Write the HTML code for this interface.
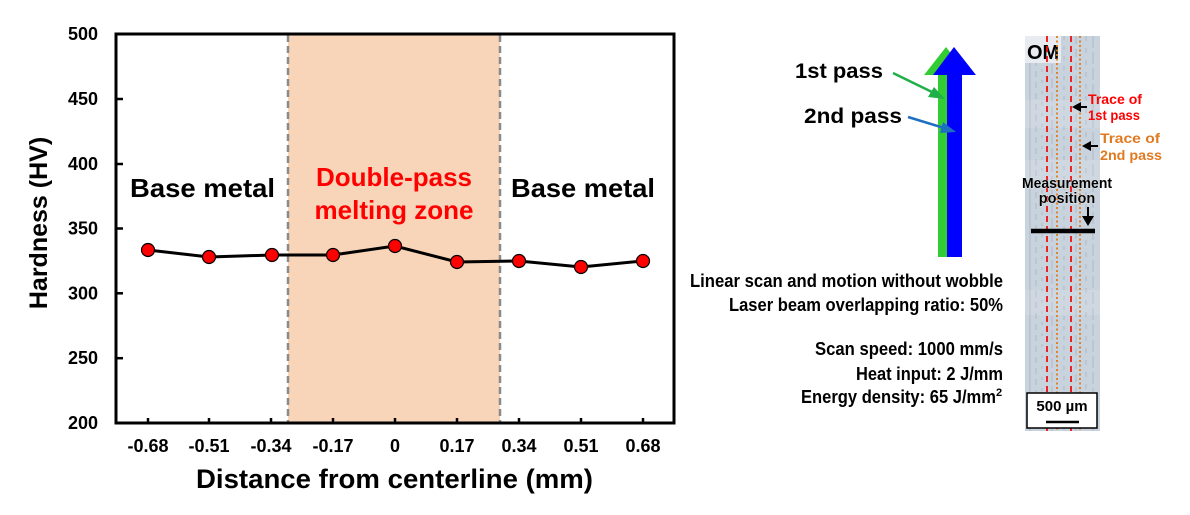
<!DOCTYPE html>
<html><head><meta charset="utf-8"><style>
html,body{margin:0;padding:0;background:#fff;}
svg{display:block;}
text{font-family:"Liberation Sans",Arial,sans-serif;font-weight:bold;}
</style></head><body>
<svg width="1190" height="515" viewBox="0 0 1190 515" xmlns="http://www.w3.org/2000/svg">
<rect width="1190" height="515" fill="#fff"/>
<!-- shaded zone -->
<rect x="288" y="34" width="212" height="389" fill="#f8d4b8"/>
<line x1="288" y1="35" x2="288" y2="422" stroke="#8a8a8a" stroke-width="2.5" stroke-dasharray="7,4"/>
<line x1="500" y1="35" x2="500" y2="422" stroke="#8a8a8a" stroke-width="2.5" stroke-dasharray="7,4"/>
<!-- frame -->
<rect x="116" y="34" width="558" height="389" fill="none" stroke="#000" stroke-width="3"/>
<!-- ticks -->
<g stroke="#000" stroke-width="2.5">
<line x1="116" y1="99" x2="123" y2="99"/>
<line x1="116" y1="164" x2="123" y2="164"/>
<line x1="116" y1="228.5" x2="123" y2="228.5"/>
<line x1="116" y1="293.3" x2="123" y2="293.3"/>
<line x1="116" y1="358.2" x2="123" y2="358.2"/>
<line x1="148" y1="423" x2="148" y2="418"/>
<line x1="209" y1="423" x2="209" y2="418"/>
<line x1="271" y1="423" x2="271" y2="418"/>
<line x1="333" y1="423" x2="333" y2="418"/>
<line x1="395" y1="423" x2="395" y2="418"/>
<line x1="457" y1="423" x2="457" y2="418"/>
<line x1="519" y1="423" x2="519" y2="418"/>
<line x1="581" y1="423" x2="581" y2="418"/>
<line x1="643" y1="423" x2="643" y2="418"/>
</g>
<!-- y labels -->
<g font-size="18" text-anchor="end" fill="#000">
<text x="98" y="40">500</text>
<text x="98" y="105">450</text>
<text x="98" y="170">400</text>
<text x="98" y="234.5">350</text>
<text x="98" y="299.5">300</text>
<text x="98" y="364">250</text>
<text x="98" y="429">200</text>
</g>
<!-- x labels -->
<g font-size="18" text-anchor="middle" fill="#000">
<text x="148" y="452">-0.68</text>
<text x="209" y="452">-0.51</text>
<text x="271" y="452">-0.34</text>
<text x="333" y="452">-0.17</text>
<text x="395" y="452">0</text>
<text x="457" y="452">0.17</text>
<text x="519" y="452">0.34</text>
<text x="581" y="452">0.51</text>
<text x="643" y="452">0.68</text>
</g>
<text x="196" y="488" font-size="27" textLength="397" lengthAdjust="spacingAndGlyphs">Distance from centerline (mm)</text>
<text transform="translate(47,223) rotate(-90)" x="0" y="0" font-size="25" text-anchor="middle">Hardness (HV)</text>
<!-- region labels -->
<text x="130" y="197" font-size="26" textLength="145" lengthAdjust="spacingAndGlyphs">Base metal</text>
<text x="511" y="197" font-size="26" textLength="144" lengthAdjust="spacingAndGlyphs">Base metal</text>
<text x="394" y="186" font-size="26" fill="#ff0000" text-anchor="middle">Double-pass</text>
<text x="394" y="219" font-size="26" fill="#ff0000" text-anchor="middle">melting zone</text>
<!-- data -->
<polyline points="148,250 209,257 272,255 333,255 395,246 457,262 519,261 581,267 643,261" fill="none" stroke="#000" stroke-width="3"/>
<g fill="#ff0000" stroke="#000" stroke-width="1.2">
<circle cx="148" cy="250" r="6.5"/>
<circle cx="209" cy="257" r="6.5"/>
<circle cx="272" cy="255" r="6.5"/>
<circle cx="333" cy="255" r="6.5"/>
<circle cx="395" cy="246" r="6.5"/>
<circle cx="457" cy="262" r="6.5"/>
<circle cx="519" cy="261" r="6.5"/>
<circle cx="581" cy="267" r="6.5"/>
<circle cx="643" cy="261" r="6.5"/>
</g>
<!-- big arrows -->
<polygon points="946,47 968,75 947,75 947,257 938,257 938,75 924,75" fill="#33cc33"/>
<polygon points="954,47 976,75 962,75 962,257 947,257 947,75 933,75" fill="#0000ff"/>
<text x="795" y="78" font-size="21" textLength="88" lengthAdjust="spacingAndGlyphs">1st pass</text>
<text x="804" y="123" font-size="21" textLength="98" lengthAdjust="spacingAndGlyphs">2nd pass</text>
<line x1="893" y1="73" x2="934" y2="93" stroke="#1fb04a" stroke-width="2.5"/>
<polygon points="945,99 928,97 934,87" fill="#1fb04a"/>
<line x1="908" y1="117" x2="944" y2="128" stroke="#1f6fc0" stroke-width="2.5"/>
<polygon points="956,132 940,133 943,122" fill="#1f6fc0"/>
<!-- parameters -->
<g font-size="18.5" text-anchor="start" fill="#000">
<text x="690" y="287" textLength="313" lengthAdjust="spacingAndGlyphs">Linear scan and motion without wobble</text>
<text x="729" y="311" textLength="274" lengthAdjust="spacingAndGlyphs">Laser beam overlapping ratio: 50%</text>
<text x="815" y="355" textLength="188" lengthAdjust="spacingAndGlyphs">Scan speed: 1000 mm/s</text>
<text x="856" y="380" textLength="147" lengthAdjust="spacingAndGlyphs">Heat input: 2 J/mm</text>
<text x="801" y="403" textLength="195" lengthAdjust="spacingAndGlyphs">Energy density: 65 J/mm</text>
<text x="996" y="396" font-size="11">2</text>
</g>
<!-- micrograph -->
<rect x="1025" y="36" width="75" height="395" fill="#c9d3dd"/>
<g stroke="#aab4be" stroke-width="1" opacity="0.8">
<line x1="1030" y1="36" x2="1030" y2="431"/>
<line x1="1036" y1="60" x2="1036" y2="431" stroke-dasharray="6,5"/>
<line x1="1042" y1="36" x2="1042" y2="431" stroke-dasharray="3,8"/>
<line x1="1052" y1="36" x2="1052" y2="431" stroke-dasharray="10,4"/>
<line x1="1064" y1="36" x2="1064" y2="431" stroke-dasharray="4,6"/>
<line x1="1076" y1="36" x2="1076" y2="431" stroke-dasharray="8,5"/>
<line x1="1086" y1="36" x2="1086" y2="431" stroke-dasharray="5,7"/>
<line x1="1093" y1="36" x2="1093" y2="431" stroke-dasharray="12,4"/>
</g>
<g fill="#ffffff" opacity="0.12">
<rect x="1025" y="100" width="75" height="28"/>
<rect x="1025" y="160" width="75" height="20"/>
<rect x="1025" y="290" width="75" height="25"/>
</g>
<rect x="1025" y="36" width="36" height="27" fill="#e8ecf0"/>
<text x="1027" y="59" font-size="20">OM</text>
<g stroke="#ee1111" stroke-width="1.8" stroke-dasharray="6,4">
<line x1="1047" y1="36" x2="1047" y2="431"/>
<line x1="1071" y1="36" x2="1071" y2="431"/>
</g>
<g stroke="#e07a20" stroke-width="1.8" stroke-dasharray="2,2.5">
<line x1="1057" y1="36" x2="1057" y2="431"/>
<line x1="1080" y1="36" x2="1080" y2="431"/>
</g>
<!-- trace labels -->
<text x="1088" y="104" font-size="14" fill="#ff0000" textLength="54" lengthAdjust="spacingAndGlyphs">Trace of</text>
<text x="1088" y="120" font-size="14" fill="#ff0000" textLength="52" lengthAdjust="spacingAndGlyphs">1st pass</text>
<line x1="1087" y1="107" x2="1078" y2="107" stroke="#000" stroke-width="2"/>
<polygon points="1072,107 1081,102 1081,112" fill="#000"/>
<text x="1100" y="143" font-size="14" fill="#e07a20" textLength="60" lengthAdjust="spacingAndGlyphs">Trace of</text>
<text x="1100" y="160" font-size="14" fill="#e07a20" textLength="62" lengthAdjust="spacingAndGlyphs">2nd pass</text>
<line x1="1098" y1="146" x2="1088" y2="146" stroke="#000" stroke-width="2"/>
<polygon points="1082,146 1091,141 1091,151" fill="#000"/>
<!-- measurement -->
<g font-size="14.5" text-anchor="middle" fill="#000" stroke="#ffffff" stroke-width="0.6" paint-order="stroke">
<text x="1067" y="188" textLength="90" lengthAdjust="spacingAndGlyphs">Measurement</text>
<text x="1067" y="203">position</text>
</g>
<line x1="1088" y1="207" x2="1088" y2="218" stroke="#000" stroke-width="2"/>
<polygon points="1082,216 1094,216 1088,226" fill="#000"/>
<line x1="1031" y1="231" x2="1095" y2="231" stroke="#000" stroke-width="4.5"/>
<!-- scale box -->
<rect x="1027" y="393" width="70" height="35" fill="#fff" stroke="#000" stroke-width="1.5"/>
<text x="1062" y="411" font-size="15" text-anchor="middle">500 µm</text>
<line x1="1046" y1="422" x2="1079" y2="422" stroke="#000" stroke-width="2.5"/>
</svg>
</body></html>
